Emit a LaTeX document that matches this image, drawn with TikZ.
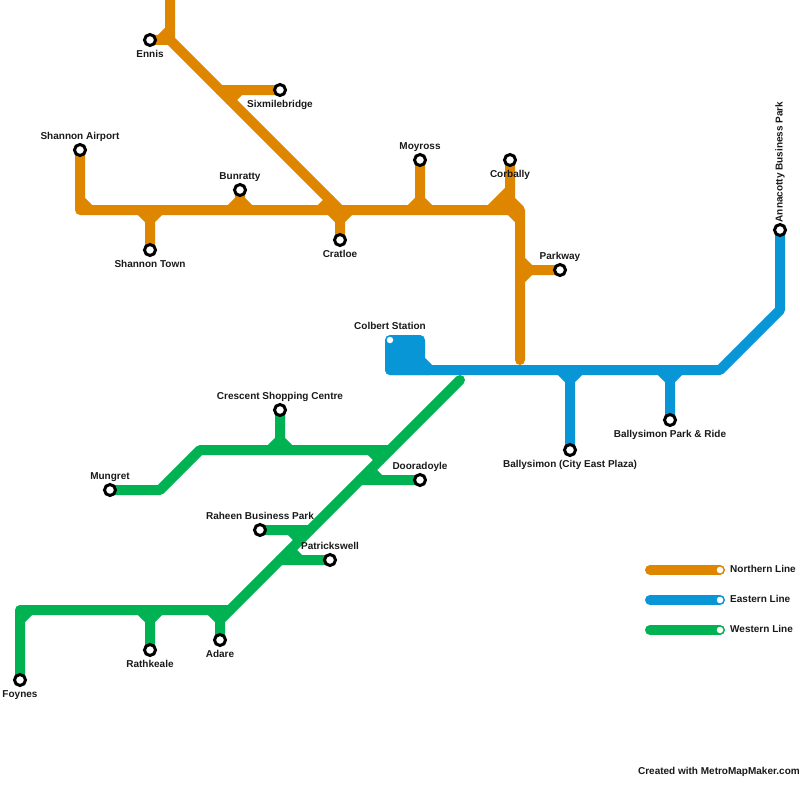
\documentclass[tikz,border=0pt]{standalone}
\usepackage{fontspec}
\setmainfont{Liberation Sans}
\usetikzlibrary{positioning}
\definecolor{mynorth}{RGB}{223,134,0}
\definecolor{myeast}{RGB}{8,150,215}
\definecolor{mywest}{RGB}{0,178,81}
\pgfdeclarelayer{lines}
\pgfsetlayers{lines,main}
\tikzset{
  station/.style={circle, draw=black, fill=white, line width=3pt, minimum size=11pt, inner sep=0pt, outer sep=0pt},
  dot/.style={circle, fill=white, minimum size=6.5pt, inner sep=0pt, outer sep=0pt},
  stop/.style={font=\fontsize{10}{12}\selectfont\bfseries, text=black!90, inner sep=0pt, text height=7.2pt, text depth=0pt},
  northern/.style={mynorth, line width=10pt, line cap=round, line join=round},
  eastern/.style={myeast, line width=10pt, line cap=round, line join=round},
  western/.style={mywest, line width=10pt, line cap=round, line join=round},
}

\begin{document}
\begin{tikzpicture}[x=1pt, y=-1pt]
\useasboundingbox (0,0) rectangle (800,800);

% Northern stations
\node[station] (ennis) at (150,40) {};
\node[station] (sixmile) at (280,90) {};
\node[station] (airport) at (80,150) {};
\node[station] (bunratty) at (240,190) {};
\node[station] (moyross) at (420,160) {};
\node[station] (corbally) at (510,160) {};
\node[station] (shannontown) at (150,250) {};
\node[station] (cratloe) at (340,240) {};
\node[station] (parkway) at (560,270) {};
\coordinate (northtop) at (170,0);
\coordinate (northend) at (520,360);

% Eastern stations
\node[dot] (colbert) at (390,340) {};
\node[station] (annacotty) at (780,230) {};
\node[station] (cityeast) at (570,450) {};
\node[station] (parkride) at (670,420) {};

% Western stations
\node[station] (crescent) at (280,410) {};
\node[station] (mungret) at (110,490) {};
\node[station] (dooradoyle) at (420,480) {};
\node[station] (raheen) at (260,530) {};
\node[station] (patrickswell) at (330,560) {};
\node[station] (rathkeale) at (150,650) {};
\node[station] (adare) at (220,640) {};
\node[station] (foynes) at (20,680) {};
\coordinate (westend) at (460,380);

% Key
\coordinate (keynorth) at (650,570);
\coordinate (keyeast) at (650,600);
\coordinate (keywest) at (650,630);
\node[dot] (dotnorth) at (720,570) {};
\node[dot] (doteast) at (720,600) {};
\node[dot] (dotwest) at (720,630) {};

\begin{pgfonlayer}{lines}
% Northern Line
\draw[northern] (northtop) -- (170,40) -- (340,210);
\draw[northern] (ennis) -- (170,40) (160,40) -- (170,30);
\draw[northern] (sixmile) -- (220,90) (240,90) -- (230,100);
\draw[northern] (airport) -- (80,210) -- (510,210) -- (520,220) -- (northend);
\draw[northern] (80,200) -- (90,210);
\draw[northern] (bunratty) -- ++(0,10) coordinate (bunrattytee) -- ++(-10,10) (bunrattytee) -- ++(10,10);
\draw[northern] (moyross) -- ++(0,40) coordinate (moyrosstee) -- ++(-10,10) (moyrosstee) -- ++(10,10);
\draw[northern] (shannontown) -- ++(0,-30) coordinate (shannontee) -- ++(-10,-10) (shannontee) -- ++(10,-10);
\draw[northern] (cratloe) -- ++(0,-20) coordinate (cratloetee) -- ++(-10,-10) (cratloetee) -- ++(10,-10);
\draw[northern] (320,210) -- (330,200);
\draw[northern] (corbally) -- (510,200) -- (520,210) -- (520,220);
\draw[northern] (490,210) -- (510,190) (500,210) -- (510,200);
\draw[northern] (parkway) -- ++(-30,0) coordinate (parkwaytee) -- ++(-10,-10) (parkwaytee) -- ++(-10,10);

% Eastern Line
\filldraw[eastern] (colbert.center) -- (420,340) -- (420,360) -- (430,370) -- (390,370) -- cycle;
\draw[eastern] (390,370) -- (720,370) -- (780,310) -- (annacotty);
\draw[eastern] (cityeast) -- ++(0,-70) coordinate (cityeasttee) -- ++(-10,-10) (cityeasttee) -- ++(10,-10);
\draw[eastern] (parkride) -- ++(0,-40) coordinate (parkridetee) -- ++(-10,-10) (parkridetee) -- ++(10,-10);

% Western Line
\draw[western] (mungret) -- (160,490) -- (200,450) -- (390,450);
\draw[western] (crescent) -- ++(0,30) coordinate (crescenttee) -- ++(-10,10) (crescenttee) -- ++(10,10);
\draw[western] (westend) -- (230,610) -- (20,610) -- (foynes);
\draw[western] (20,620) -- (30,610);
\draw[western] (370,450) -- (380,460);
\draw[western] (dooradoyle) -- (360,480) (370,470) -- (380,480);
\draw[western] (raheen) -- (310,530) (290,530) -- (300,540);
\draw[western] (patrickswell) -- (280,560) (290,550) -- (300,560);
\draw[western] (rathkeale) -- ++(0,-30) coordinate (rathkealetee) -- ++(-10,-10) (rathkealetee) -- ++(10,-10);
\draw[western] (adare) -- ++(0,-20) coordinate (adaretee) -- ++(-10,-10) (adaretee) -- ++(10,-10);

% Key lines
\draw[northern] (keynorth) -- (dotnorth.center);
\draw[eastern] (keyeast) -- (doteast.center);
\draw[western] (keywest) -- (dotwest.center);
\end{pgfonlayer}

% Labels
\node[stop] (ennislabel) at (150,54) {Ennis};
\node[stop] (sixmilelabel) at (280,104) {Sixmilebridge};
\node[stop] (airportlabel) at (80,136) {Shannon Airport};
\node[stop] (bunrattylabel) at (240,176) {Bunratty};
\node[stop] (moyrosslabel) at (420,146) {Moyross};
\node[stop] (corballylabel) at (510,174) {Corbally};
\node[stop] (parkwaylabel) at (560,256) {Parkway};
\node[stop] (shannontownlabel) at (150,264) {Shannon Town};
\node[stop] (cratloelabel) at (340,254) {Cratloe};
\node[stop] (colbertlabel) at (390,326) {Colbert Station};
\node[stop, rotate=90] (annacottylabel) at (779,162) {Annacotty Business Park};
\node[stop] (cityeastlabel) at (570,464) {Ballysimon (City East Plaza)};
\node[stop] (parkridelabel) at (670,434) {Ballysimon Park \& Ride};
\node[stop] (crescentlabel) at (280,396) {Crescent Shopping Centre};
\node[stop] (mungretlabel) at (110,476) {Mungret};
\node[stop] (dooradoylelabel) at (420,466) {Dooradoyle};
\node[stop] (raheenlabel) at (260,516) {Raheen Business Park};
\node[stop] (patrickswelllabel) at (330,546) {Patrickswell};
\node[stop] (rathkealelabel) at (150,664) {Rathkeale};
\node[stop] (adarelabel) at (220,654) {Adare};
\node[stop] (foyneslabel) at (20,694) {Foynes};
\node[stop, anchor=west] (northlabel) at (730,569) {Northern Line};
\node[stop, anchor=west] (eastlabel) at (730,599) {Eastern Line};
\node[stop, anchor=west] (westlabel) at (730,629) {Western Line};
\node[stop, anchor=east] (credit) at (800,771) {Created with MetroMapMaker.com};
\end{tikzpicture}
\end{document}
